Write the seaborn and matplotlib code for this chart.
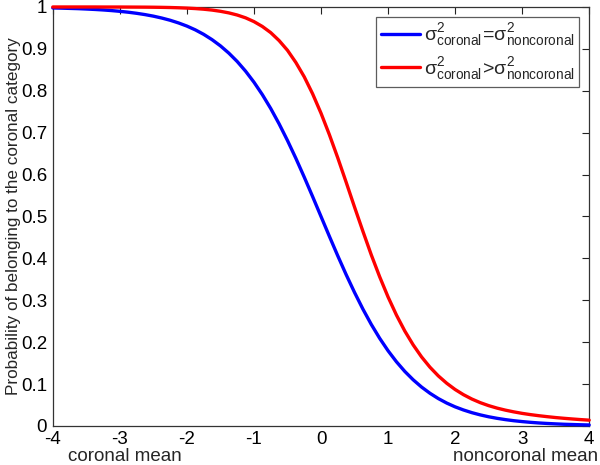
import numpy as np
import pandas as pd
import matplotlib
matplotlib.use("Agg")
import matplotlib.pyplot as plt
import seaborn as sns

# Values (x grid every 0.125)
x_vals = list(np.arange(-4, 4.0001, 0.125))
p_equal = [0.9977, 0.9972, 0.9966, 0.9960, 0.9951, 0.9941, 0.9929, 0.9914, 0.9896,
           0.9875, 0.9849, 0.9818, 0.9781, 0.9736, 0.9683, 0.9619, 0.9544, 0.9454,
           0.9347, 0.9220, 0.9072, 0.8899, 0.8699, 0.8468, 0.8205, 0.7908, 0.7577,
           0.7211, 0.6813, 0.6388, 0.5939, 0.5474, 0.5,
           0.4526, 0.4061, 0.3612, 0.3187, 0.2789, 0.2423, 0.2092, 0.1795, 0.1532,
           0.1301, 0.1101, 0.0928, 0.0780, 0.0653, 0.0546, 0.0456, 0.0381, 0.0317,
           0.0264, 0.0219, 0.0182, 0.0151, 0.0125, 0.0104, 0.0086, 0.0071, 0.0059,
           0.0049, 0.0040, 0.0034, 0.0028, 0.0023]
p_greater = [1.0, 1.0, 1.0, 1.0, 1.0, 1.0, 0.9999, 0.9999, 0.9999, 0.9998, 0.9997,
             0.9996, 0.9994, 0.9991, 0.9987, 0.9981, 0.9973, 0.9962, 0.9947, 0.9926,
             0.9897, 0.9859, 0.9808, 0.9741, 0.9651, 0.9535, 0.9388, 0.9198, 0.8966,
             0.8675, 0.8333, 0.7927, 0.7465,
             0.6952, 0.6399, 0.5818, 0.5225, 0.4646, 0.4083, 0.3560, 0.3079, 0.2647,
             0.2265, 0.1934, 0.1647, 0.1402, 0.1194, 0.1019, 0.0870, 0.0746, 0.0642,
             0.0556, 0.0485, 0.0426, 0.0377, 0.0336, 0.0300, 0.0270, 0.0244, 0.0221,
             0.0200, 0.0182, 0.0166, 0.0151, 0.0138]
labels = [r'$\mathrm{σ}^2_{\mathrm{coronal}}\!=\!\mathrm{σ}^2_{\mathrm{noncoronal}}$',
          r'$\mathrm{σ}^2_{\mathrm{coronal}}\!>\!\mathrm{σ}^2_{\mathrm{noncoronal}}$']
colors = ['#0000ff', '#ff0000']

df = pd.DataFrame({
    'x': x_vals * 2,
    'p': p_equal + p_greater,
    'cond': [labels[0]] * len(x_vals) + [labels[1]] * len(x_vals),
})

sns.set_style('white')
plt.rcParams['font.family'] = ['Liberation Sans', 'DejaVu Sans']
plt.rcParams['mathtext.fontset'] = 'custom'
plt.rcParams['mathtext.rm'] = 'Liberation Sans'
plt.rcParams['mathtext.it'] = 'Liberation Sans:italic'

fig = plt.figure(figsize=(6, 4.65), dpi=100)
ax = fig.add_axes([0.088, 0.084, 0.894, 0.901])

sns.lineplot(data=df, x='x', y='p', hue='cond', palette=colors, linewidth=2.4,
             ax=ax, clip_on=False, zorder=5)

ax.set_xlim(-4, 4)
ax.set_ylim(0, 1)
ax.set_xticks(np.arange(-4, 5, 1))
ax.set_yticks(np.arange(0, 1.01, 0.1))
ax.set_xticklabels([str(v) for v in range(-4, 5)])
ax.set_yticklabels(['0'] + ['%.1f' % v for v in np.arange(0.1, 1.0, 0.1)] + ['1'])
ax.tick_params(direction='in', length=5, width=0.8, colors='#222222',
               labelcolor='black', labelsize=13.5, top=True, right=True)
ax.tick_params(axis='x', pad=4)
ax.tick_params(axis='y', pad=4)
for s in ax.spines.values():
    s.set_color('#333333')
    s.set_linewidth(0.9)

ax.set_xlabel('')
ax.set_ylabel('Probability of belonging to the coronal category', fontsize=12.3,
              labelpad=0)

fig.text(0.113, 0.0, 'coronal mean', fontsize=13.5, ha='left', va='bottom')
fig.text(0.997, 0.0, 'noncoronal mean', fontsize=13.5, ha='right', va='bottom')

leg = ax.legend(title=None, loc='upper right', fontsize=14, frameon=True,
                fancybox=False, edgecolor='#333333', handlelength=2.0,
                handletextpad=0.2, borderpad=0.25, labelspacing=0.35,
                borderaxespad=0.5)
leg.get_frame().set_linewidth(0.9)

fig.savefig('out.png', dpi=100)
